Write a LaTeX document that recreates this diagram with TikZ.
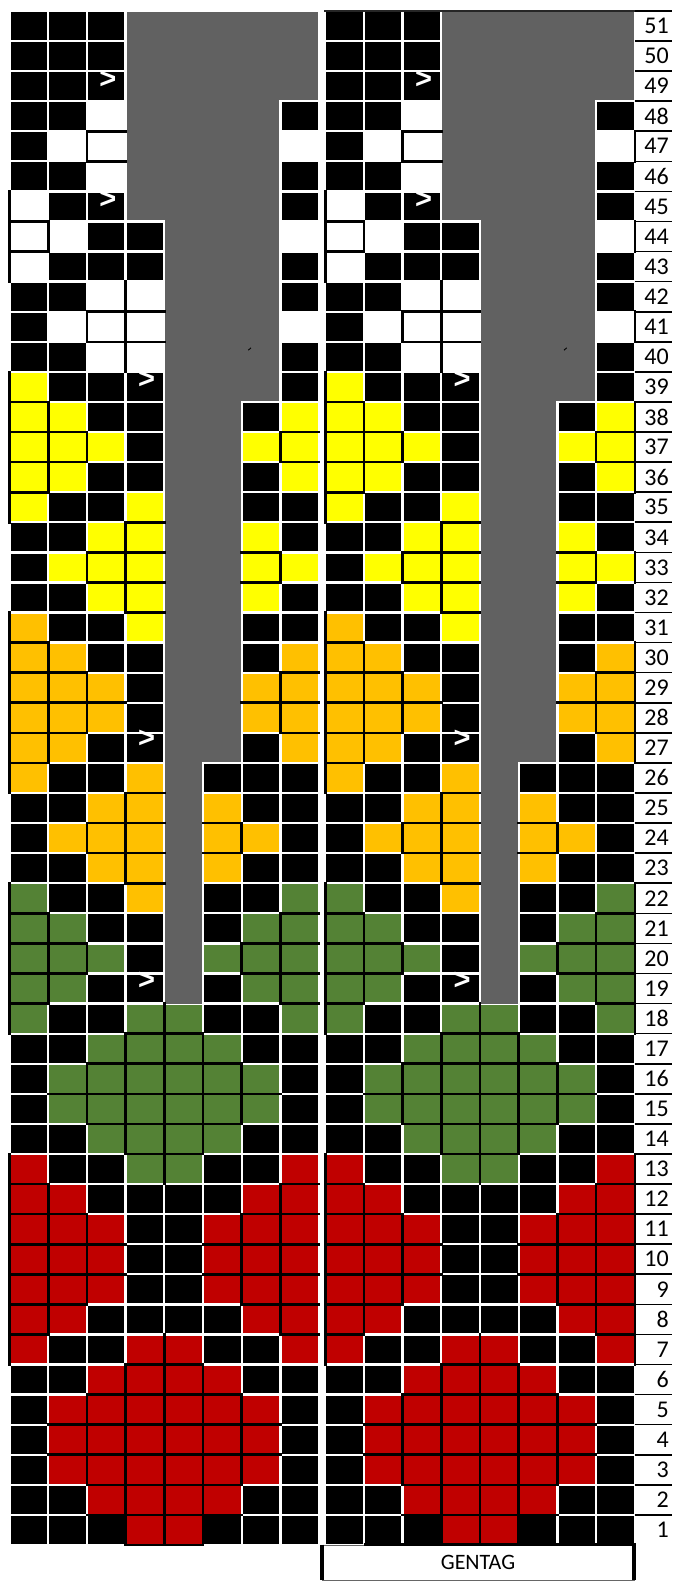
\documentclass[tikz,border=0pt]{standalone}
\usepackage{fontspec}
\setmainfont{Carlito}
\newfontfamily\markfont{Liberation Sans}
\usetikzlibrary{positioning}

\definecolor{chartgray}{HTML}{616161}
\definecolor{chartyellow}{HTML}{FFFF00}
\definecolor{chartorange}{HTML}{FFC000}
\definecolor{chartgreen}{HTML}{548235}
\definecolor{chartred}{HTML}{C00000}

% one row of the chart: row number, then the 8 stitches
\newcommand\storerow[9]{%
  \expandafter\xdef\csname kc-#1-0\endcsname{#2}%
  \expandafter\xdef\csname kc-#1-1\endcsname{#3}%
  \expandafter\xdef\csname kc-#1-2\endcsname{#4}%
  \expandafter\xdef\csname kc-#1-3\endcsname{#5}%
  \expandafter\xdef\csname kc-#1-4\endcsname{#6}%
  \expandafter\xdef\csname kc-#1-5\endcsname{#7}%
  \expandafter\xdef\csname kc-#1-6\endcsname{#8}%
  \expandafter\xdef\csname kc-#1-7\endcsname{#9}}
\def\symK{K}
\def\symX{X}

% K black, W white, Y yellow, O orange, G green, R red, X no stitch
\foreach \r/\s in {
  51/KKKXXXXX, 50/KKKXXXXX, 49/KKKXXXXX, 48/KKWXXXXK, 47/KWWXXXXW,
  46/KKWXXXXK, 45/WKKXXXXK, 44/WWKKXXXW, 43/WKKKXXXK, 42/KKWWXXXK,
  41/KWWWXXXW, 40/KKWWXXXK, 39/YKKKXXXK, 38/YYKKXXKY, 37/YYYKXXYY,
  36/YYKKXXKY, 35/YKKYXXKK, 34/KKYYXXYK, 33/KYYYXXYY, 32/KKYYXXYK,
  31/OKKYXXKK, 30/OOKKXXKO, 29/OOOKXXOO, 28/OOOKXXOO, 27/OOKKXXKO,
  26/OKKOXKKK, 25/KKOOXOKK, 24/KOOOXOOK, 23/KKOOXOKK, 22/GKKOXKKG,
  21/GGKKXKGG, 20/GGGKXGGG, 19/GGKKXKGG, 18/GKKGGKKG, 17/KKGGGGKK,
  16/KGGGGGGK, 15/KGGGGGGK, 14/KKGGGGKK, 13/RKKGGKKR, 12/RRKKKKRR,
  11/RRRKKRRR, 10/RRRKKRRR, 9/RRRKKRRR, 8/RRKKKKRR, 7/RKKRRKKR,
  6/KKRRRRKK, 5/KRRRRRRK, 4/KRRRRRRK, 3/KRRRRRRK, 2/KKRRRRKK,
  1/KKKRRKKK}{%
  \pgfmathtruncatemacro\rr{\r}%
  \edef\tmp{\noexpand\storerow{\rr}\s}\tmp}

\begin{document}
\begin{tikzpicture}[
cell/.style={draw=white, line width=2.3pt},
cellK/.style={cell, fill=black},
cellW/.style={cell, fill=white},
cellY/.style={cell, fill=chartyellow},
cellO/.style={cell, fill=chartorange},
cellG/.style={cell, fill=chartgreen},
cellR/.style={cell, fill=chartred},
cellX/.style={},
edge/.style={draw=black, line width=2.6pt, line cap=rect},
decmark/.style={text=white, font=\markfont\bfseries\fontsize{29}{29}\selectfont, inner sep=0pt},
numline/.style={draw=black, line width=1.6pt},
numlab/.style={anchor=east, inner sep=0pt, font=\fontsize{24}{24}\selectfont}
]
\useasboundingbox (0,0) rectangle (672pt,-1582pt);

\foreach \px/\isright in {9.5/0, 325.2/1}{
\begin{scope}[shift={(\px pt,-1545pt)}, x=38.7pt, y=30.08pt]
% stitches
\foreach \r in {1,...,51}{
  \foreach \i in {0,...,7}{
    \edef\cc{\csname kc-\r-\i\endcsname}
    \path[cell\cc] (\i,\r-1) rectangle ++(1,1);
  }
}
% no-stitch area
\filldraw[fill=chartgray, draw=white, line width=2.3pt]
  (3,51) -- (8,51) -- (8,48) -- (7,48) -- (7,38) -- (6,38) -- (6,26)
  -- (5,26) -- (5,18) -- (4,18) -- (4,44) -- (3,44) -- cycle;
\fill[chartgray] (4.03,17.99) rectangle (4.97,18.1);
\draw[line width=0.9pt] (6.17,39.72) -- (6.24,39.8);
% borders round the coloured blocks
\foreach \r in {1,...,51}{
  \foreach \i in {0,...,7}{
    \edef\cc{\csname kc-\r-\i\endcsname}
    \ifx\cc\symK\else\ifx\cc\symX\else
      \ifnum\i<7 \pgfmathtruncatemacro\ni{\i+1}%
        \edef\cn{\csname kc-\r-\ni\endcsname}%
        \ifx\cc\cn \draw[edge] (\ni,\r-1) -- (\ni,\r);\fi
      \fi
      \ifnum\r<51 \pgfmathtruncatemacro\nr{\r+1}%
        \edef\cn{\csname kc-\nr-\i\endcsname}%
        \ifx\cc\cn \draw[edge] (\i,\r) -- (\i+1,\r);\fi
      \fi
      \ifnum\i=0 \draw[edge] (0,\r-1) -- (0,\r);\fi
      \ifnum\r=1 \draw[edge] (\i,0) -- (\i+1,0);\fi
      \ifnum\i=7 \ifnum\isright=1 \draw[edge] (8,\r-1) -- (8,\r);\fi\fi
    \fi\fi
  }
}
\draw[edge] (2,1) -- (6,1);
\draw[edge] (3,0) -- (3,1);
\draw[edge] (5,0) -- (5,1);
% decreases
\node[decmark] (dec49-\isright) at (2.54,48.72) {>};
\node[decmark] (dec45-\isright) at (2.54,44.72) {>};
\node[decmark] (dec39-\isright) at (3.54,38.75) {>};
\node[decmark] (dec27-\isright) at (3.54,26.8) {>};
\node[decmark] (dec19-\isright) at (3.54,18.75) {>};
\end{scope}
}

% row numbers
\draw[line width=1.8pt, black!85] (324pt,-11pt) -- (672pt,-11pt);
\foreach \r in {1,...,51}{
  \pgfmathsetmacro\yy{-1545+\r*30.08}
  \draw[numline] (634.8pt,\yy pt) -- (672pt,\yy pt);
  \pgfmathsetmacro\yc{-1545+(\r-0.5)*30.08}
  \node[numlab] (num\r) at (669pt,\yc pt) {\r};
}

\node[draw=black!60, line width=0.8pt, minimum width=312pt, minimum height=35pt,
  inner sep=0pt, font=\fontsize{22}{22}\selectfont] (gentag) at (478pt,-1562.5pt) {GENTAG};
\draw[line width=4pt] (gentag.north west) -- (gentag.south west);
\draw[line width=4pt] (gentag.north east) -- (gentag.south east);
\draw[line width=3pt] ([xshift=42pt]gentag.north west) -- ([xshift=2pt]gentag.north east);
\end{tikzpicture}
\end{document}
